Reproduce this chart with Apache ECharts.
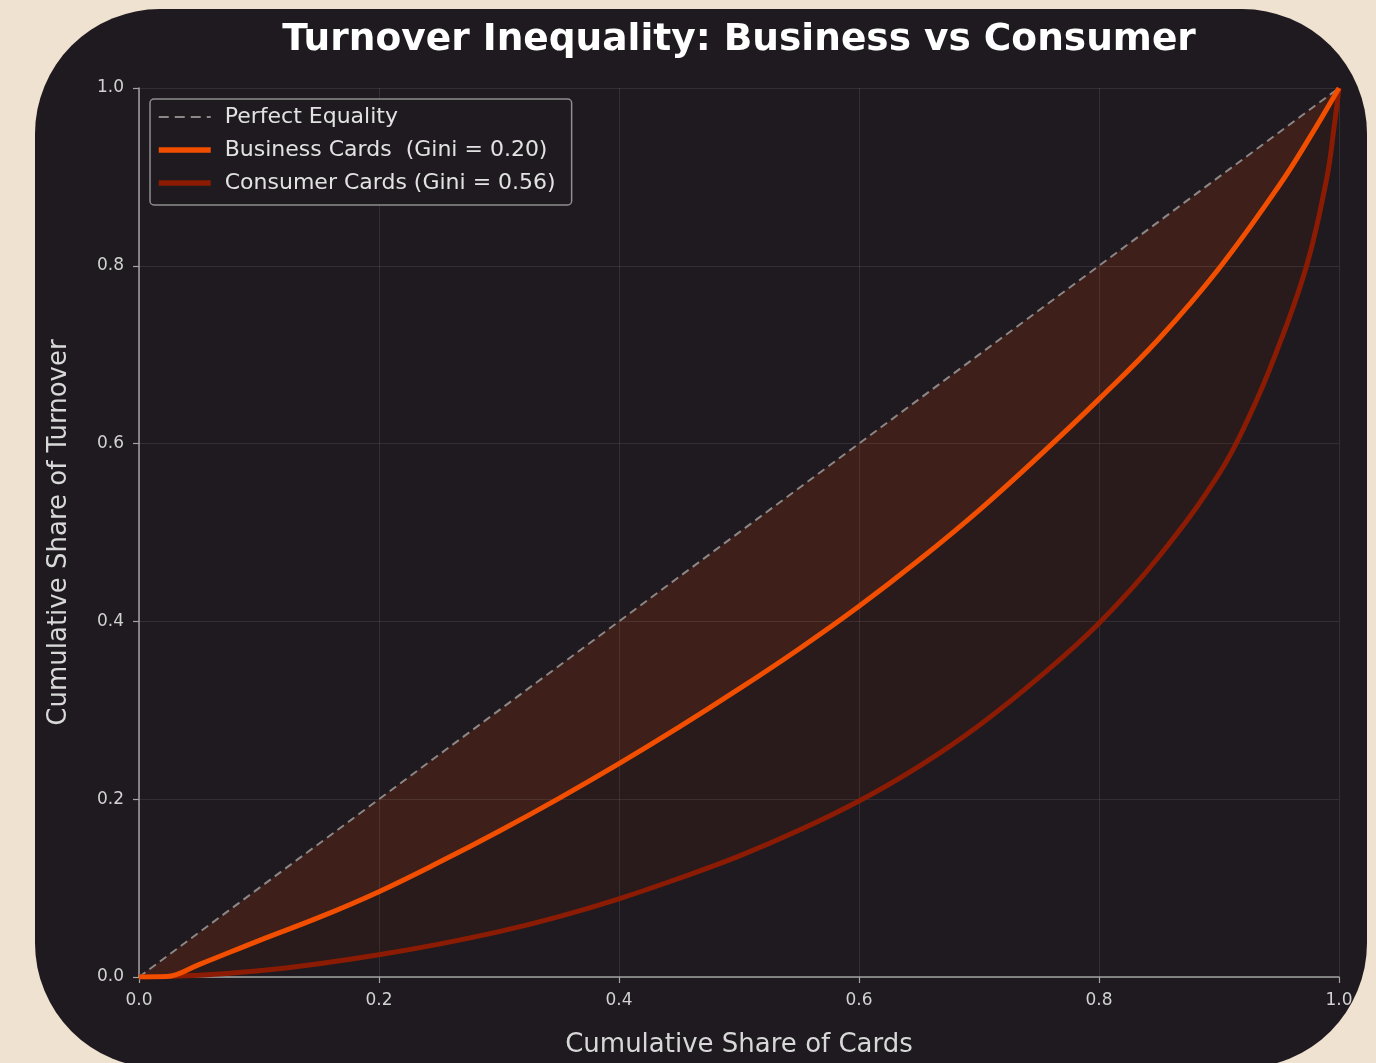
<!DOCTYPE html>
<html>
<head>
<meta charset="utf-8">
<script src="https://cdn.jsdelivr.net/npm/echarts@6/dist/echarts.min.js"></script>
<style>
  html, body { margin: 0; padding: 0; background: #f0e2d1; overflow: hidden; }
  #wrap { position: absolute; left: 0; top: 0; width: 1376px; height: 1080px;
          clip-path: inset(9px 9px 12px 35px round 125px); }
  #chart { width: 1376px; height: 1080px; }
</style>
</head>
<body>
<div id="wrap"><div id="chart"></div></div>
<script>
// ---- data ----
const titleText = 'Turnover Inequality: Business vs Consumer';
const xAxisName = 'Cumulative Share of Cards';
const yAxisName = 'Cumulative Share of Turnover';
const seriesNames = ['Perfect Equality', 'Business Cards  (Gini = 0.20)', 'Consumer Cards (Gini = 0.56)'];
const tickValues = [0, 0.2, 0.4, 0.6, 0.8, 1.0];

const equalityX = [0, 1];
const equalityY = [0, 1];

const businessX = [0, 0.023, 0.05, 0.1, 0.15, 0.2, 0.25, 0.3, 0.35, 0.4, 0.45, 0.5, 0.55, 0.6, 0.65, 0.7, 0.75, 0.8, 0.85, 0.9, 0.95, 0.975, 1.0];
const businessY = [0, 0.0005, 0.014, 0.041, 0.067, 0.096, 0.129, 0.164, 0.201, 0.240, 0.281, 0.324, 0.369, 0.417, 0.469, 0.525, 0.586, 0.650, 0.718, 0.797, 0.890, 0.943, 1.0];

const consumerX = [0, 0.05, 0.1, 0.15, 0.2, 0.25, 0.3, 0.35, 0.4, 0.45, 0.5, 0.55, 0.6, 0.65, 0.7, 0.75, 0.8, 0.85, 0.9, 0.925, 0.947, 0.973, 0.99, 0.996, 1.0];
const consumerY = [0, 0.002, 0.007, 0.015, 0.025, 0.037, 0.051, 0.068, 0.088, 0.111, 0.136, 0.165, 0.198, 0.237, 0.283, 0.337, 0.398, 0.473, 0.566, 0.630, 0.700, 0.800, 0.900, 0.957, 1.0];

// ---- colours ----
const BG = '#1e1a1f';
const FILL_UPPER = '#3e1f19';
const FILL_LOWER = '#291a1b';
const BUSINESS = '#f24e00';
const CONSUMER = '#8b1c03';
const EQUAL = '#8c8787';
const FONT = 'DejaVu Sans';

const zip = (xs, ys) => xs.map((x, i) => [x, ys[i]]);
const SMOOTH = 0.4;

const chart = echarts.init(document.getElementById('chart'), null, { renderer: 'canvas' });

const axisCommon = {
  type: 'value', min: 0, max: 1, interval: 0.2, z: 1.5,
  axisLine: { show: true, lineStyle: { color: '#a3a3a3', width: 1.5 } },
  axisTick: { show: true, length: 6, lineStyle: { color: '#a3a3a3', width: 1.2 } },
  axisLabel: { color: '#d2d2d2', fontSize: 17, fontFamily: FONT, margin: 15,
               formatter: v => v.toFixed(1) },
  splitLine: { show: true, lineStyle: { color: 'rgba(255,255,255,0.09)', width: 1 } },
  nameLocation: 'middle',
  nameTextStyle: { color: '#d8d8d8', fontSize: 26, fontFamily: FONT }
};

chart.setOption({
  backgroundColor: BG,
  animation: false,
  title: {
    text: titleText, left: 734, top: 16, textAlign: 'center',
    textStyle: { color: '#ffffff', fontSize: 37.5, fontWeight: 'bold', fontFamily: FONT }
  },
  grid: { left: 139, right: 37, top: 88, bottom: 1080 - 977, containLabel: false },
  xAxis: Object.assign({}, axisCommon, { name: xAxisName, nameGap: 55 }),
  yAxis: Object.assign({}, axisCommon, { name: yAxisName, nameGap: 67 }),
  legend: {
    data: [
      { name: seriesNames[0], lineStyle: { width: 2, type: [10, 6], color: EQUAL } },
      { name: seriesNames[1], lineStyle: { width: 5.5, color: BUSINESS } },
      { name: seriesNames[2], lineStyle: { width: 5.5, color: CONSUMER } }
    ],
    orient: 'vertical', left: 150, top: 99,
    padding: [7, 16, 11, 6], itemGap: 11, itemWidth: 52, itemHeight: 14,
    itemStyle: { opacity: 0 },
    backgroundColor: BG, borderColor: '#8e8e8e', borderWidth: 1.5, borderRadius: 4,
    textStyle: { color: '#e2e2e2', fontSize: 22, fontFamily: FONT, padding: [0, 0, 0, 9] },
    selectedMode: false
  },
  series: [
    { name: 'fillUpper', type: 'line', data: zip(equalityX, equalityY), z: 1, silent: true,
      showSymbol: false, symbol: 'none', lineStyle: { width: 0 },
      areaStyle: { color: FILL_UPPER, opacity: 1 } },
    { name: 'fillLower', type: 'line', data: zip(businessX, businessY), z: 1, silent: true,
      showSymbol: false, symbol: 'none', smooth: SMOOTH, lineStyle: { width: 0 },
      areaStyle: { color: FILL_LOWER, opacity: 1 } },
    { name: 'fillBase', type: 'line', data: zip(consumerX, consumerY), z: 1, silent: true,
      showSymbol: false, symbol: 'none', smooth: SMOOTH, lineStyle: { width: 0 },
      areaStyle: { color: BG, opacity: 1 } },
    { name: seriesNames[0], type: 'line', data: zip(equalityX, equalityY), z: 3,
      showSymbol: false, symbol: 'none', color: EQUAL,
      lineStyle: { color: EQUAL, width: 2, type: [8, 5] } },
    { name: seriesNames[2], type: 'line', data: zip(consumerX, consumerY), z: 4,
      showSymbol: false, symbol: 'none', smooth: SMOOTH, color: CONSUMER,
      lineStyle: { color: CONSUMER, width: 5 } },
    { name: seriesNames[1], type: 'line', data: zip(businessX, businessY), z: 5,
      showSymbol: false, symbol: 'none', smooth: SMOOTH, color: BUSINESS,
      lineStyle: { color: BUSINESS, width: 5 } }
  ]
});
</script>
</body>
</html>
